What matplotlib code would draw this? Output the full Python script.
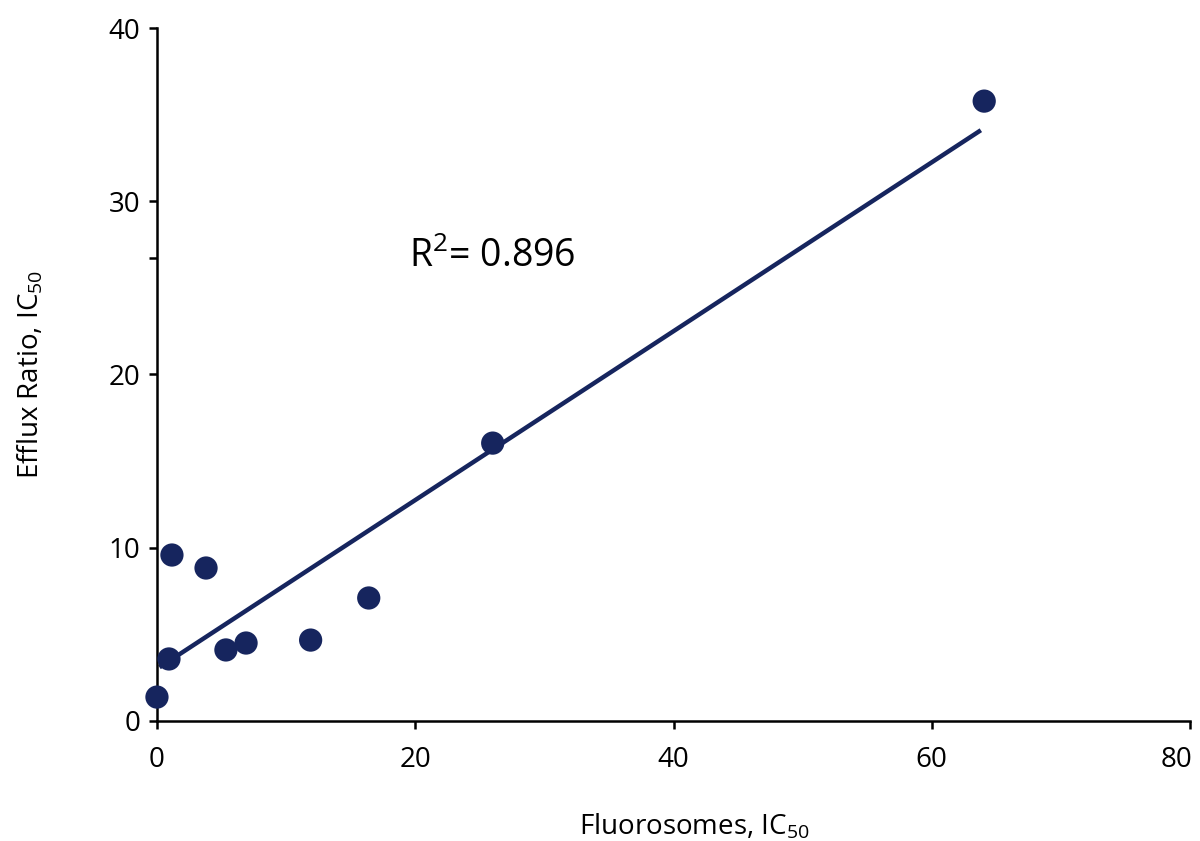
import matplotlib
matplotlib.use('Agg')
from matplotlib import pyplot as plt
from matplotlib.transforms import ScaledTranslation

plt.rcParams['font.family'] = ['Open Sans', 'DejaVu Sans']
plt.rcParams['mathtext.fontset'] = 'custom'
plt.rcParams['mathtext.rm'] = 'Open Sans'

# data
fluorosomes = [0.0, 0.93, 1.16, 3.8, 5.34, 6.9, 11.9, 16.4, 26.0, 64.06]
efflux_ratio = [1.38, 3.58, 9.58, 8.83, 4.1, 4.5, 4.67, 7.1, 16.04, 35.78]
fit_x = [0.2, 63.8]
fit_y = [3.1, 34.1]
r2_text = 'R$^\\mathregular{2}$= 0.896'

xticks = [0, 20, 40, 60, 80]
yticks = [0, 10, 20, 30, 40]

navy = '#16255e'

fig = plt.figure(figsize=(12, 8.41), dpi=100)
ax = fig.add_axes([0.1308, 0.1427, 0.8609, 0.824])

ax.plot(fit_x, fit_y, color=navy, lw=3.2, solid_capstyle='butt', zorder=2)
ax.scatter(fluorosomes, efflux_ratio, s=280, color=navy, edgecolors='none', zorder=3, clip_on=False)

ax.set_xlim(0, 80)
ax.set_ylim(0, 40)
ax.set_xticks(xticks)
ax.set_yticks(yticks)
ax.set_yticks([26.7], minor=True)
ax.tick_params(which='both', direction='out', length=6, width=1.8, labelsize=20)
ax.tick_params(axis='x', pad=12)
ax.tick_params(axis='y', pad=6)

# last x label sits inside the figure edge
fig.canvas.draw()
last = ax.get_xticklabels()[-1]
last.set_transform(last.get_transform() + ScaledTranslation(-0.14, 0, fig.dpi_scale_trans))

for s in ['top', 'right']:
    ax.spines[s].set_visible(False)
for s in ['left', 'bottom']:
    ax.spines[s].set_linewidth(1.8)

ax.set_xlabel('Fluorosomes, IC$_\\mathregular{50}$', fontsize=20)
ax.set_ylabel('Efflux Ratio, IC$_\\mathregular{50}$', fontsize=20)
ax.xaxis.set_label_coords(0.52, -0.13)
ax.yaxis.set_label_coords(-0.108, 0.5)

ax.text(19.5, 26.8, r2_text, fontsize=27, ha='left', va='center')

plt.savefig('out.png', dpi=100)
